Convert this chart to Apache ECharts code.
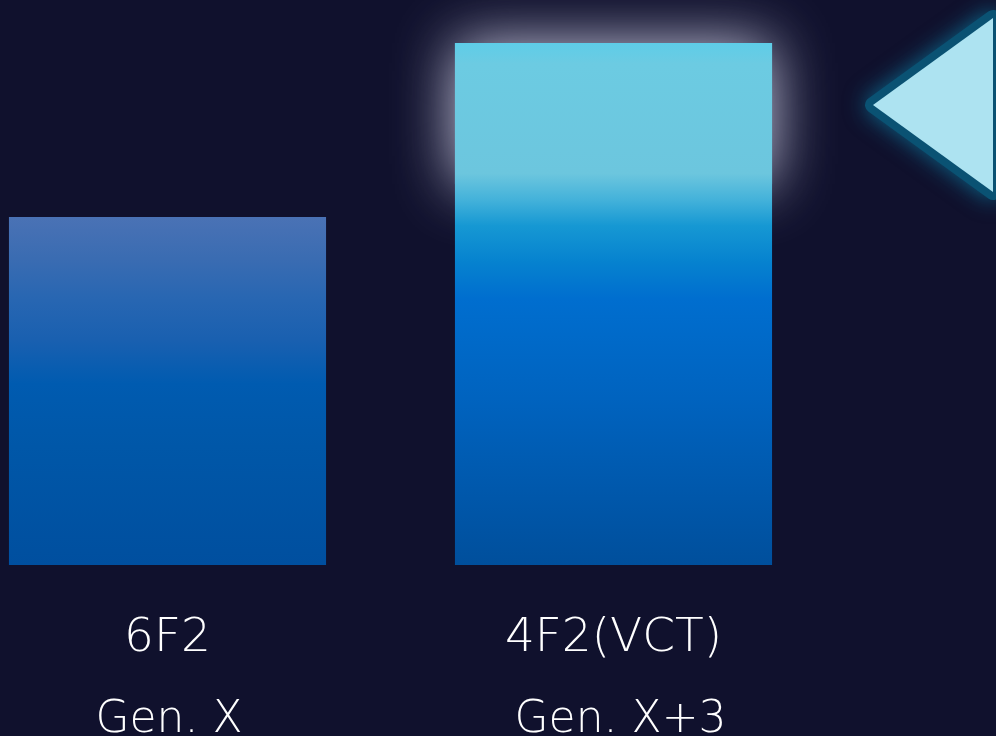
<!DOCTYPE html>
<html>
<head>
<meta charset="utf-8">
<script src="https://cdn.jsdelivr.net/npm/echarts@6/dist/echarts.min.js"></script>
<style>
  html, body { margin: 0; padding: 0; background: #10112d; }
  #chart { width: 996px; height: 736px; }
</style>
</head>
<body>
<div id="chart"></div>
<script>
// Cell architecture and generation for each bar
const cellTypes = ['6F2', '4F2(VCT)'];
const generations = ['Gen. X', 'Gen. X+3'];
// Relative bit density (6F2 baseline = 1)
const density = [1.0, 1.5];

const chart = echarts.init(document.getElementById('chart'));

const grad = (stops) => new echarts.graphic.LinearGradient(0, 0, 0, 1,
  stops.map(([offset, color]) => ({ offset, color })));

const leftFill = grad([
  [0, '#4a72b5'], [0.12, '#3a6cb2'], [0.24, '#2766b2'], [0.35, '#1a60b0'],
  [0.48, '#005bb0'], [0.66, '#0057a8'], [1, '#004f9f']
]);
const rightFill = grad([
  [0, '#5ecde8'], [0.04, '#6ccbe2'], [0.25, '#6cc6de'], [0.30, '#44b2da'],
  [0.35, '#1698d3'], [0.42, '#0682cf'], [0.49, '#006ecf'], [0.68, '#0063bf'], [1, '#004f9c']
]);

const barRatio = 0.711;
const labelFont = { fontFamily: 'DejaVu Sans', fontWeight: 200, fontSize: 44, lineHeight: 82, color: '#ffffff' };

chart.setOption({
  backgroundColor: '#10112d',
  animation: false,
  grid: { left: -55.5, width: 892, top: 43, bottom: 171, containLabel: false, outerBoundsMode: 'none' },
  xAxis: {
    type: 'category',
    data: cellTypes,
    axisLine: { show: false },
    axisTick: { show: false },
    splitLine: { show: false },
    axisLabel: {
      margin: 33,
      interval: 0,
      hideOverlap: false,
      formatter: (v, i) => `{n|${v}}\n{${i === 1 ? 'g2' : 'g'}|${generations[i]}}`,
      rich: {
        n: { ...labelFont, fontSize: 47 },
        g: { ...labelFont, padding: [0, 0, 0, 3] },
        g2: { ...labelFont, padding: [0, 0, 0, 14] }
      }
    }
  },
  yAxis: { type: 'value', min: 0, max: 1.5, show: false, splitLine: { show: false } },
  series: [
    {
      // soft halo behind the top of the newer-generation bar
      type: 'custom',
      z: 1,
      silent: true,
      data: [[1, density[1]]],
      renderItem: (params, api) => {
        const top = api.coord([api.value(0), api.value(1)]);
        const base = api.coord([api.value(0), 0]);
        const w = api.size([1, 0])[0] * barRatio;
        const h = (base[1] - top[1]) * 0.27;
        return {
          type: 'rect',
          shape: { x: top[0] - w / 2, y: top[1], width: w, height: h },
          style: { fill: '#6ccadf', shadowBlur: 60, shadowColor: 'rgba(235,235,255,0.85)' }
        };
      }
    },
    {
      type: 'bar',
      z: 3,
      barWidth: (barRatio * 100) + '%',
      data: [
        { value: density[0], itemStyle: { color: leftFill } },
        { value: density[1], itemStyle: { color: rightFill } }
      ]
    }
  ],
  graphic: [
    {
      // blurred teal halo around the pointer
      type: 'polygon',
      z: 5,
      shape: { points: [[873, 105], [993, 18], [993, 192]] },
      style: { fill: '#0a5273', stroke: '#0a5273', lineWidth: 16, lineJoin: 'round', shadowBlur: 22, shadowColor: '#0c5a7c' }
    },
    {
      type: 'polygon',
      z: 6,
      shape: { points: [[873, 105], [993, 18], [993, 192]] },
      style: { fill: '#ade3f1' }
    }
  ]
});
</script>
</body>
</html>
